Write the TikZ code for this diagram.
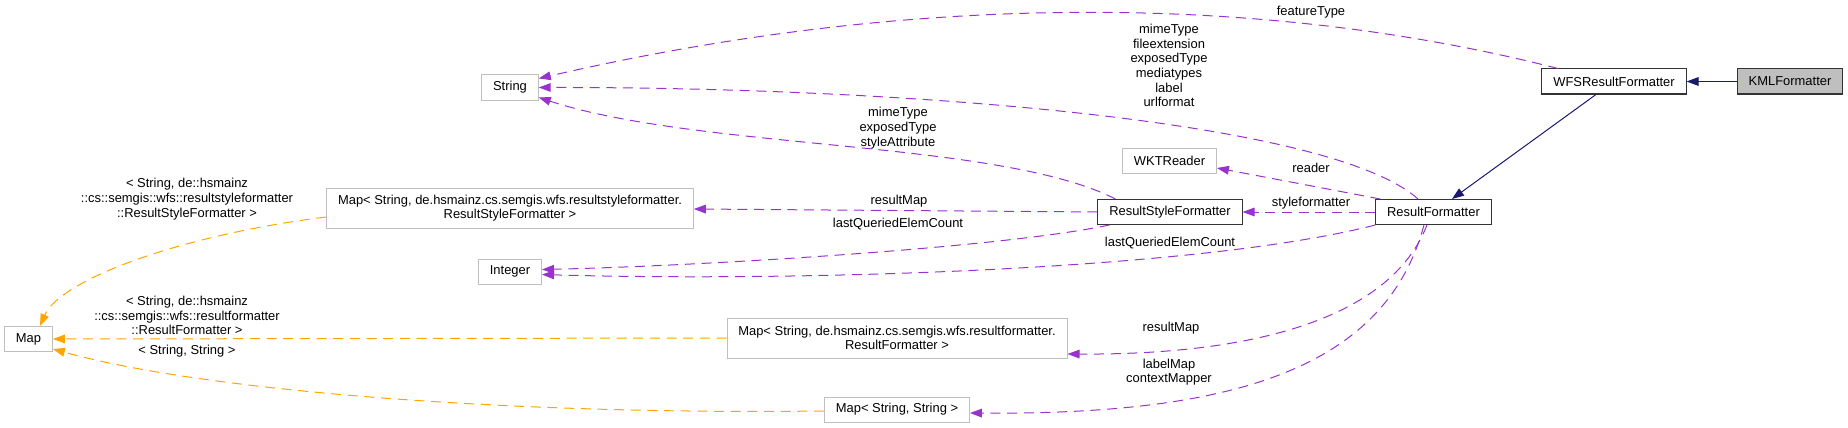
\documentclass[tikz,border=0pt]{standalone}
\usepackage{fontspec}
\setmainfont{Liberation Sans}
\usetikzlibrary{arrows.meta, calc}

\definecolor{grey75}{HTML}{BFBFBF}
\definecolor{orchid}{HTML}{9A32CD}
\definecolor{tmplorange}{HTML}{FFA500}
\definecolor{midnight}{HTML}{191970}

\begin{document}
\begin{tikzpicture}[x=0.75pt,y=-0.75pt,>={Triangle[length=9pt,width=6.5pt]},font=\fontsize{9.7}{11}\selectfont]
	\tikzstyle{cls}=[draw=black!80, line width=0.75pt, inner xsep=8.5pt, inner ysep=0pt, minimum height=18.75pt]
	\tikzstyle{ext}=[cls, draw=grey75, align=center]
	\tikzstyle{lbl}=[inner sep=0pt, align=center]
	\tikzstyle{inh}=[->, color=midnight, line width=0.75pt]
	\tikzstyle{usage}=[->, color=orchid, line width=0.75pt, dash pattern=on 7.5pt off 5pt]
	\tikzstyle{tmpl}=[->, color=tmplorange, line width=0.75pt, dash pattern=on 7.5pt off 5pt]
	\useasboundingbox (0,0) rectangle (1848,428);

    % classes
    \node [cls] (wfs) at (1614,81.5) {WFSResultFormatter};
    \node [cls, fill=grey75] (kml) [right of=wfs, node distance=132pt] {KMLFormatter};
    \node [cls] (rsf) at (1170,212) {ResultStyleFormatter};
    \node [cls] (rf) [right of=rsf, node distance=197.6pt] {ResultFormatter};
    \node [ext] (wkt) at (1169.5,161) {WKTReader};
    \node [ext] (str) at (510,87.5) {String};
    \node [ext] (int) at (510,271.5) {Integer};
    \node [ext, minimum height=30pt] (mrsf) at (510,208) {Map< String, de.hsmainz.cs.semgis.wfs.resultstyleformatter.\\ResultStyleFormatter >};
    \node [ext, minimum height=30pt] (mrf) at (897,338) {Map< String, de.hsmainz.cs.semgis.wfs.resultformatter.\\ResultFormatter >};
    \node [ext] (mss) at (897,409.5) {Map< String, String >};
    \node [ext] (map) at (28.5,339) {Map};

    % labels
    \node [lbl] (lfeat) at (1311,12) {featureType};
    \node [lbl] (lrfstr) at (1169,65.5) {mimeType\\fileextension\\exposedType\\mediatypes\\label\\urlformat};
    \node [lbl] (lrsfstr) at (898,128) {mimeType\\exposedType\\styleAttribute};
    \node [lbl] (lreader) at (1311,168) {reader};
    \node [lbl] (lstyle) at (1311,203) {styleformatter};
    \node [lbl] (lrsfmap) at (899,201) {resultMap};
    \node [lbl] (lrsfint) at (898,224) {lastQueriedElemCount};
    \node [lbl] (lrfint) at (1170,243) {lastQueriedElemCount};
    \node [lbl] (lrfmap) at (1171,328) {resultMap};
    \node [lbl] (llabel) at (1169,372) {labelMap\\contextMapper};
    \node [lbl] (ltrsf) at (187,199) {< String, de::hsmainz\\::cs::semgis::wfs::resultstyleformatter\\::ResultStyleFormatter >};
    \node [lbl] (ltrf) at (187,315.5) {< String, de::hsmainz\\::cs::semgis::wfs::resultformatter\\::ResultFormatter >};
    \node [lbl] (ltss) at (187,351) {< String, String >};

    % inheritance
    \draw [inh] (kml.west) -- (wfs.east);
    \draw [inh] ($(wfs.south)+(-18,0)$) -- ($(rf.north)+(18.5,0)$);

    % usage
    \draw [usage] ($(wfs.north)+(-56,0)$) .. controls (1250,-10) and (900,-5) .. ($(str.east)+(0,-9)$);
    \draw [usage] ($(rf.north)+(-15.5,0)$) .. controls (1330,120) and (900,87) .. (str.east);
    \draw [usage] ($(rsf.north west)+(18,0)$) .. controls (1000,140) and (700,150) .. ($(str.south east)+(0,-3)$);
    \draw [usage] (rsf.west) -- ($(mrsf.east)+(0,1)$);
    \draw [usage] ($(rsf.south west)+(12,0)$) .. controls (1000,248) and (700,266) .. ($(int.east)+(0,-2)$);
    \draw [usage] (rf.south west) .. controls (1200,270) and (800,282) .. ($(int.east)+(0,3)$);
    \draw [usage] ($(rf.north west)+(5,0)$) -- ($(wkt.east)+(0,7)$);
    \draw [usage] (rf.west) -- (rsf.east);
    \draw [usage] ($(rf.south)+(-6.5,0)$) .. controls (1390,320) and (1250,355) .. ($(mrf.east)+(0,16)$);
    \draw [usage] ($(rf.south)+(-9.5,0)$) .. controls (1385,370) and (1230,415) .. ($(mss.east)+(0,3.5)$);

    % template instances
    \draw [tmpl] ($(mrsf.west)+(0,9)$) .. controls (180,235) and (60,280) .. ($(map.north)+(11.5,0)$);
    \draw [tmpl] (mrf.west) -- (map.east);
    \draw [tmpl] ($(mss.west)+(0,1.5)$) .. controls (500,415) and (200,390) .. ($(map.south east)+(0,-3)$);
\end{tikzpicture}
\end{document}
